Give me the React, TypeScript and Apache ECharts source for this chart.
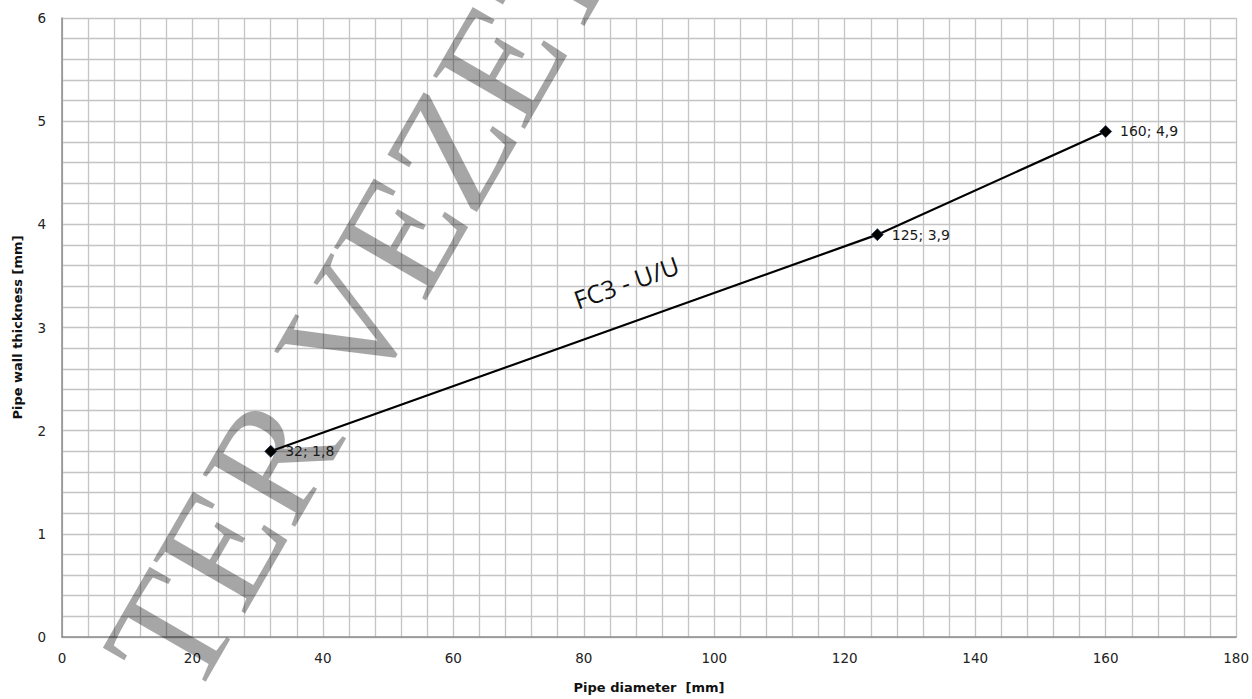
import React, { useEffect, useRef } from "react";
import * as echarts from "echarts";

const xValues = [32, 125, 160];
const yValues = [1.8, 3.9, 4.9];
const xRange = [0, 180];
const xStep = 20;
const yRange = [0, 6];
const yStep = 1;
const xAxisName = "Pipe diameter  [mm]";
const yAxisName = "Pipe wall thickness [mm]";
const seriesName = "FC3 - U/U";
const seriesLabelAt = [86.5, 3.44]; // data coordinates of the series caption centre
const watermarkText = "TER VEZET";

export default function App() {
  const ref = useRef<HTMLDivElement>(null);
  useEffect(() => {
    if (!ref.current) return;
    const chart = echarts.init(ref.current, undefined, { renderer: "svg" });
    const font = "'DejaVu Sans', Verdana, sans-serif";
    chart.setOption({
      animation: false,
      backgroundColor: "#fff",
      grid: { left: 62, right: 15, top: 18, bottom: 61 },
      xAxis: {
        type: "value",
        min: xRange[0],
        max: xRange[1],
        interval: xStep,
        name: xAxisName,
        nameLocation: "middle",
        nameGap: 44,
        nameTextStyle: { fontFamily: font, fontWeight: "bold", fontSize: 13, color: "#111" },
        axisLine: { show: true, lineStyle: { color: "#8c8c8c", width: 1.5 } },
        axisTick: { show: false },
        axisLabel: { fontFamily: font, fontSize: 13.5, color: "#222", margin: 14 },
        splitLine: { show: true, lineStyle: { color: "#c4c4c4", width: 1.3 } },
        minorTick: { show: false, splitNumber: 5 },
        minorSplitLine: { show: true, lineStyle: { color: "#c4c4c4", width: 1.3 } },
      },
      yAxis: {
        type: "value",
        min: yRange[0],
        max: yRange[1],
        interval: yStep,
        name: yAxisName,
        nameLocation: "middle",
        nameGap: 38,
        nameRotate: 90,
        nameTextStyle: { fontFamily: font, fontWeight: "bold", fontSize: 13, color: "#111" },
        axisLine: { show: true, lineStyle: { color: "#8c8c8c", width: 1.5 } },
        axisTick: { show: false },
        axisLabel: { fontFamily: font, fontSize: 13.5, color: "#222", margin: 16 },
        splitLine: { show: true, lineStyle: { color: "#c4c4c4", width: 1.3 } },
        minorTick: { show: false, splitNumber: 5 },
        minorSplitLine: { show: true, lineStyle: { color: "#c4c4c4", width: 1.3 } },
      },
      series: [
        {
          name: seriesName,
          type: "line",
          z: 5,
          data: xValues.map((x, i) => [x, yValues[i]]),
          lineStyle: { color: "#000", width: 2.2 },
          symbol: "diamond",
          symbolSize: 12,
          itemStyle: { color: "#000", borderColor: "#1f3050", borderWidth: 0.8 },
          label: {
            show: true,
            position: "right",
            distance: 8,
            fontFamily: font,
            fontSize: 14,
            color: "#1a1a1a",
            formatter: (p: any) => `${p.value[0]}; ${String(p.value[1]).replace(".", ",")}`,
          },
        },
      ],
    });
    const [cx, cy] = chart.convertToPixel({ gridIndex: 0 }, seriesLabelAt) as number[];
    chart.setOption({
      graphic: [
        {
          type: "text",
          z: 1,
          x: 146,
          y: 676,
          rotation: (60 * Math.PI) / 180,
          silent: true,
          style: {
            text: watermarkText,
            fontFamily: "'Liberation Serif', 'Times New Roman', serif",
            fontSize: 162,
            fill: "rgba(0,0,0,0.35)",
            align: "left",
            verticalAlign: "middle",
          },
        },
        {
          type: "text",
          z: 6,
          x: cx,
          y: cy,
          rotation: (19.5 * Math.PI) / 180,
          style: {
            text: seriesName,
            fontFamily: "'Open Sans', 'DejaVu Sans', sans-serif",
            fontSize: 25,
            fill: "#111",
            align: "center",
            verticalAlign: "middle",
          },
        },
      ],
    });
    return () => chart.dispose();
  }, []);
  return (
    <div
      ref={ref}
      style={{ position: "absolute", left: 0, top: 0, width: 1252, height: 699 }}
    />
  );
}
